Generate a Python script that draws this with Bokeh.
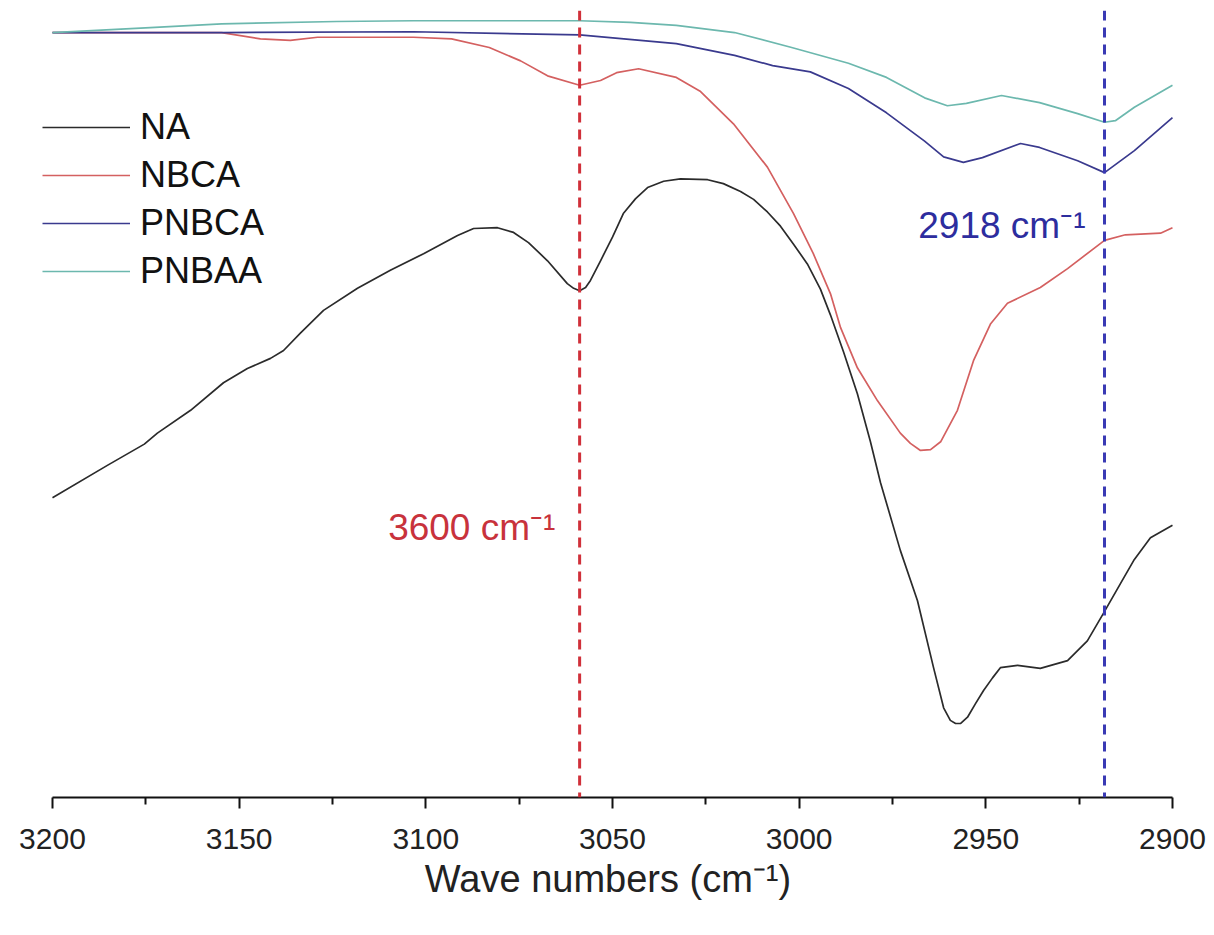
from bokeh.plotting import figure
from bokeh.models import Range1d, FixedTicker, Span, Label, Legend, LegendItem
from bokeh.embed import file_html
from bokeh.resources import INLINE

# ---- data (wavenumber in cm^-1, transmittance in arbitrary %) ----
na_x = [3200, 3185.3, 3175.4, 3171.9, 3163.0, 3154.2, 3147.8, 3141.6, 3138.1, 3133.6,
        3127.4, 3118.3, 3109.5, 3100.6, 3091.5, 3087.2, 3080.8, 3076.5, 3072.5, 3067.4,
        3062.1, 3060.4, 3058.8, 3057.2, 3055.9, 3053.2, 3050.0, 3047.1, 3043.8, 3040.6,
        3036.3, 3031.8, 3024.5, 3020.3, 3015.7, 3012.2, 3008.5, 3005.0, 3001.5, 2997.8,
        2994.3, 2991.6, 2988.1, 2984.4, 2980.9, 2978.2, 2972.9, 2968.3, 2964.0, 2961.3,
        2959.5, 2958.1, 2956.8, 2954.9, 2952.8, 2950.6, 2948.2, 2946.1, 2941.5, 2935.4,
        2928.1, 2922.8, 2918.5, 2913.9, 2910.4, 2905.9, 2900]
na_y = [38.1, 42.2, 44.9, 46.3, 49.2, 52.7, 54.5, 55.8, 56.8, 59.0,
        61.9, 64.7, 67.0, 69.1, 71.4, 72.3, 72.4, 71.8, 70.5, 68.2,
        65.3, 64.7, 64.4, 64.8, 65.7, 68.2, 71.2, 74.2, 76.1, 77.5,
        78.3, 78.6, 78.5, 78.0, 77.0, 76.0, 74.4, 72.6, 70.3, 67.8,
        64.6, 61.3, 56.6, 51.3, 45.2, 40.0, 31.4, 25.0, 16.5, 11.4,
        9.8, 9.4, 9.4, 10.2, 11.9, 13.6, 15.2, 16.5, 16.8, 16.4,
        17.4, 19.9, 23.4, 27.2, 30.1, 33.0, 34.6]

nbca_x = [3200, 3154.7, 3144.3, 3136.3, 3129.0, 3103.3, 3093.1, 3083.0, 3074.6, 3067.4,
          3058.8, 3053.2, 3048.9, 3043.0, 3032.9, 3026.4, 3017.6, 3008.5, 3001.5, 2996.2,
          2991.6, 2988.9, 2984.4, 2979.0, 2972.9, 2970.2, 2967.5, 2964.8, 2962.1, 2957.6,
          2953.3, 2948.7, 2944.2, 2935.4, 2928.1, 2918.2, 2912.6, 2903.2, 2900]
nbca_y = [97.2, 97.2, 96.4, 96.2, 96.6, 96.6, 96.4, 95.3, 93.6, 91.7,
          90.5, 91.1, 92.1, 92.6, 91.5, 89.7, 85.6, 80.1, 74.2, 69.1,
          64.0, 59.7, 54.6, 50.4, 46.3, 45.0, 44.1, 44.2, 45.2, 49.2,
          55.5, 60.2, 62.8, 64.8, 67.2, 70.8, 71.5, 71.7, 72.4]

pnbca_x = [3200, 3154.7, 3103.3, 3058.8, 3032.9, 3017.3, 3007.1, 2997.0, 2986.8, 2976.6,
           2966.4, 2961.3, 2956.0, 2950.9, 2940.7, 2935.6, 2925.4, 2918.2, 2910.2, 2900]
pnbca_y = [97.2, 97.2, 97.3, 96.9, 95.8, 94.3, 93.0, 92.2, 90.1, 87.0,
           83.4, 81.4, 80.7, 81.3, 83.1, 82.6, 80.9, 79.4, 82.2, 86.4]

pnbaa_x = [3200, 3175.1, 3154.7, 3123.9, 3103.3, 3058.8, 3045.2, 3032.9, 3017.3, 3002.0,
           2986.8, 2976.6, 2966.4, 2960.3, 2955.2, 2945.8, 2935.6, 2925.4, 2918.2, 2915.3,
           2910.2, 2900]
pnbaa_y = [97.2, 97.8, 98.3, 98.6, 98.7, 98.7, 98.5, 98.1, 97.2, 95.3,
           93.3, 91.5, 88.9, 87.9, 88.2, 89.2, 88.3, 86.9, 85.8, 86.0,
           87.7, 90.5]

series_names = ["NA", "NBCA", "PNBCA", "PNBAA"]
series_colors = ["#2b2b2b", "#d46060", "#3a3a8e", "#6cb8ae"]

major_ticks = [3200, 3150, 3100, 3050, 3000, 2950, 2900]
minor_ticks = [3175, 3125, 3075, 3025, 2975, 2925]

marker_lines = [3058.8, 2918.2]
marker_colors = ["#d0303a", "#3a3ab4"]
marker_texts = ["3600 cm\u207b\u00b9", "2918 cm\u207b\u00b9"]
marker_text_x = [3065.3, 2923.3]
marker_text_y = [34.3, 72.7]
marker_text_colors = ["#c8323c", "#2d2d9e"]

FONT = "Liberation Sans"

p = figure(width=1214, height=935, output_backend="svg", toolbar_location=None,
           x_range=Range1d(3204.55, 2897.85), y_range=Range1d(0, 100),
           min_border_left=35, min_border_right=34, min_border_top=10,
           min_border_bottom=138)
p.outline_line_color = None
p.xgrid.visible = False
p.ygrid.visible = False
p.yaxis.visible = False

renderers = []
for xs, ys, c in [(na_x, na_y, series_colors[0]), (nbca_x, nbca_y, series_colors[1]),
                  (pnbca_x, pnbca_y, series_colors[2]), (pnbaa_x, pnbaa_y, series_colors[3])]:
    r = p.line(xs, ys, line_color=c, line_width=1.7, line_join="round")
    renderers.append(r)

for loc, c in zip(marker_lines, marker_colors):
    p.add_layout(Span(location=loc, dimension="height", line_color=c,
                      line_width=3, line_dash="10 7"))

for t, x, y, c in zip(marker_texts, marker_text_x, marker_text_y, marker_text_colors):
    p.add_layout(Label(x=x, y=y, text=t, text_color=c, text_font=FONT,
                       text_font_size="37px", text_align="right",
                       text_baseline="middle"))

legend = Legend(items=[LegendItem(label=n, renderers=[r]) for n, r in zip(series_names, renderers)],
                location=(7, 505), glyph_width=88, glyph_height=40, label_height=40,
                spacing=6, padding=0, margin=0, label_standoff=10,
                label_text_font=FONT, label_text_font_size="36px",
                label_text_color="#111111", border_line_color=None,
                background_fill_alpha=0)
p.add_layout(legend)

ax = p.xaxis[0]
ax.ticker = FixedTicker(ticks=major_ticks, minor_ticks=minor_ticks)
ax.bounds = (2900, 3200)
ax.axis_line_width = 2
ax.axis_line_color = "#111111"
ax.major_tick_line_width = 2
ax.minor_tick_line_width = 2
ax.major_tick_line_color = "#111111"
ax.minor_tick_line_color = "#111111"
ax.major_tick_in = 0
ax.major_tick_out = 11
ax.minor_tick_in = 0
ax.minor_tick_out = 7
ax.major_label_text_font = FONT
ax.major_label_text_font_size = "30px"
ax.major_label_text_color = "#222222"
ax.major_label_standoff = 20
ax.axis_label = "Wave numbers (cm\u207b\u00b9)"
ax.axis_label_text_font = FONT
ax.axis_label_text_font_style = "normal"
ax.axis_label_text_font_size = "38px"
ax.axis_label_text_color = "#222222"
ax.axis_label_standoff = 6

open("out.html", "w").write(file_html(p, INLINE))
